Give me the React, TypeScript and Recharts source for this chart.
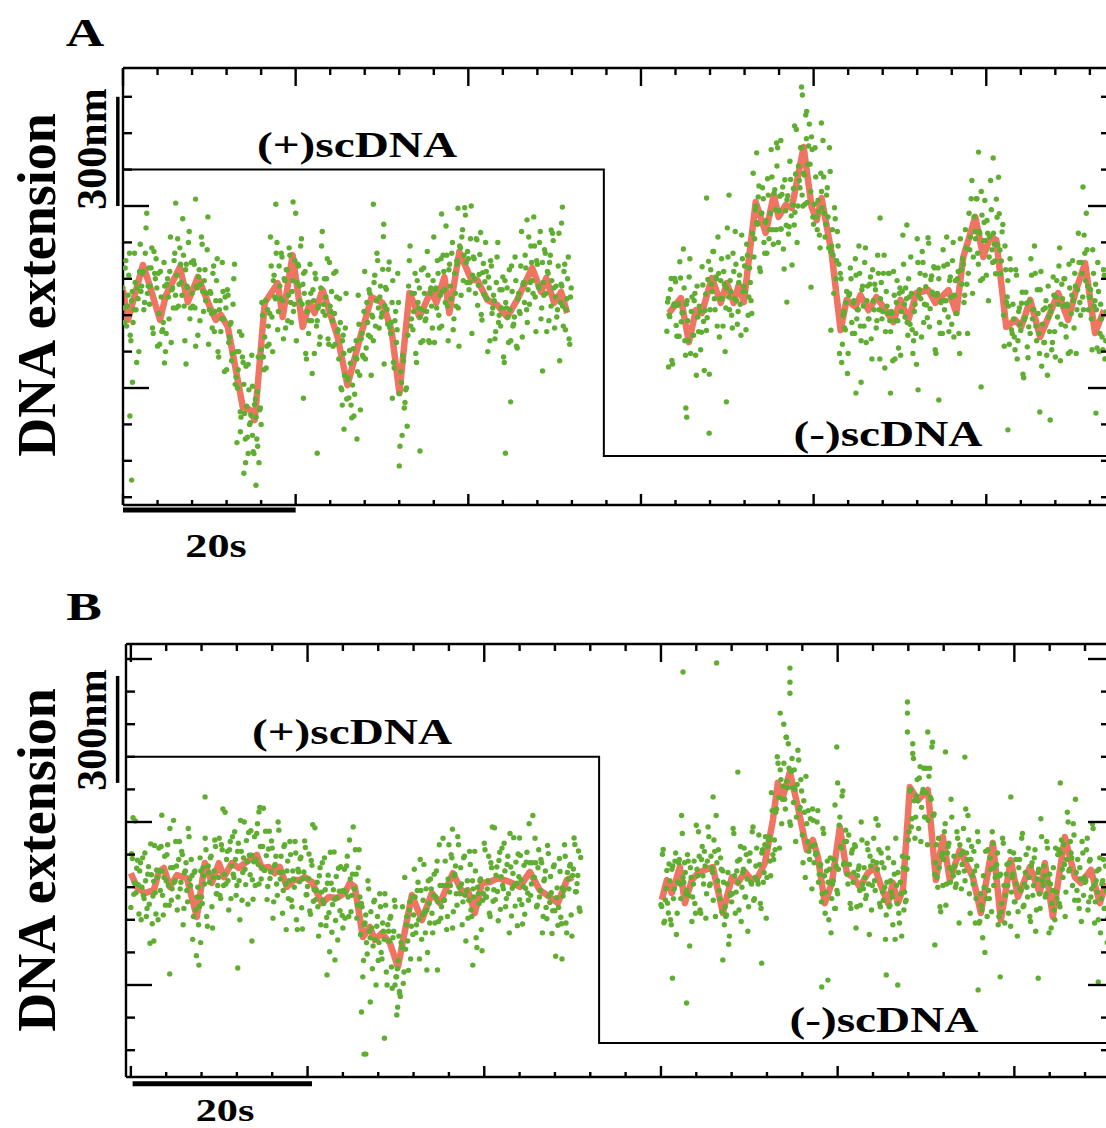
import { ComposedChart, Scatter, Line, XAxis, YAxis, ReferenceLine } from "recharts";

// raw samples: two interleaved sets per segment, 6 per second each (s)
const DT = 1 / 6;

// ---- panel A ----
// raw extension (nm), (+)scDNA part, starting at t = 0 s
const dotsA1 = [
  575, 480, 650, 525, 610, 445, 540, 480, 670, 515, 575, 400, 695, 580, 620, 535, 740, 560,
  630, 580, 685, 450, 615, 655, 415, 505, 620, 455, 480, 580, 450, 600, 490, 715, 570, 520,
  670, 520, 710, 585, 640, 555, 665, 430, 640, 575, 730, 520, 560, 650, 520, 580, 445, 625,
  585, 695, 510, 625, 560, 770, 515, 560, 465, 635, 510, 595, 400, 515, 455, 645, 490, 550,
  350, 555, 440, 480, 395, 600, 310, 400, 350, 455, 220, 385, 310, 160, 250, 365, 200, 225,
  305, 120, 270, 160, 385, 240, 405, 500, 350, 540, 415, 470, 505, 635, 400, 610, 545, 700,
  510, 580, 670, 540, 600, 465, 625, 555, 665, 480, 595, 530, 780, 590, 635, 540, 710, 585,
  560, 395, 510, 450, 640, 485, 570, 395, 600, 485, 525, 440, 690, 510, 600, 550, 655, 420,
  525, 565, 415, 505, 620, 455, 380, 480, 295, 445, 335, 560, 323, 273, 368, 218, 408, 283,
  430, 345, 475, 240, 450, 385, 620, 410, 480, 570, 440, 500, 430, 610, 540, 650, 465, 580,
  506, 716, 526, 571, 476, 646, 450, 535, 370, 485, 425, 615, 285, 345, 170, 375, 260, 300,
  445, 650, 470, 560, 510, 615, 370, 535, 575, 425, 515, 630, 485, 510, 610, 425, 575, 465,
  715, 570, 520, 615, 465, 655, 565, 620, 535, 665, 430, 640, 545, 700, 490, 560, 650, 520,
  690, 555, 735, 665, 775, 590, 655, 590, 800, 610, 655, 560, 707, 582, 667, 502, 617, 557,
  700, 545, 605, 430, 635, 520, 540, 455, 660, 480, 570, 520, 605, 370, 535, 575, 425, 515,
  635, 470, 495, 595, 410, 560, 505, 730, 585, 535, 630, 480, 715, 590, 645, 560, 690, 455,
  640, 575, 730, 520, 590, 680, 560, 620, 485, 665, 595, 705, 465, 580, 515, 725, 535, 580,
  470, 640, 515, 600, 435, 550,
];
const dotsA1b = [
  520, 630, 470, 555, 670, 430, 565, 515, 590, 370, 545, 620, 565, 615, 515, 670, 780, 580,
  530, 630, 465, 675, 600, 575, 615, 420, 550, 460, 645, 400, 585, 550, 620, 425, 575, 650,
  555, 610, 525, 685, 590, 765, 525, 625, 580, 700, 490, 645, 525, 640, 415, 575, 605, 485,
  715, 565, 595, 540, 680, 420, 565, 505, 615, 455, 540, 655, 385, 540, 490, 565, 345, 520,
  570, 425, 475, 375, 530, 640, 330, 300, 400, 235, 445, 370, 230, 360, 165, 295, 205, 390,
  125, 255, 220, 290, 95, 245, 535, 385, 440, 355, 515, 420, 715, 495, 595, 550, 670, 460,
  635, 545, 660, 435, 595, 625, 485, 685, 535, 565, 510, 650, 430, 640, 580, 690, 530, 615,
  620, 380, 535, 485, 560, 340, 540, 615, 470, 520, 420, 575, 730, 530, 500, 600, 435, 645,
  510, 485, 615, 420, 550, 460, 545, 300, 430, 395, 465, 270, 328, 403, 253, 308, 223, 383,
  380, 555, 335, 435, 390, 510, 380, 535, 445, 560, 335, 495, 590, 470, 670, 520, 550, 495,
  626, 366, 576, 516, 626, 466, 480, 595, 355, 510, 460, 535, 140, 315, 390, 245, 295, 195,
  580, 690, 490, 460, 560, 395, 595, 520, 495, 625, 430, 560, 490, 675, 430, 560, 525, 595,
  425, 575, 650, 500, 555, 470, 665, 570, 745, 525, 625, 580, 670, 460, 615, 525, 640, 415,
  685, 715, 595, 795, 645, 675, 570, 710, 450, 660, 600, 710, 527, 612, 727, 487, 642, 592,
  620, 400, 575, 650, 505, 555, 435, 590, 700, 500, 470, 570, 385, 595, 520, 495, 625, 430,
  565, 475, 660, 415, 545, 510, 635, 440, 590, 665, 515, 570, 530, 690, 595, 770, 550, 650,
  580, 700, 490, 645, 555, 670, 455, 615, 645, 525, 725, 575, 550, 495, 635, 375, 585, 525,
  620, 460, 545, 660, 420, 575,
];
// raw extension (nm), (-)scDNA part, starting at t = 63 s
const dotsA2 = [
  456, 546, 496, 601, 366, 531, 592, 442, 532, 647, 482, 507, 575, 390, 540, 430, 655, 510,
  445, 540, 390, 580, 455, 510, 453, 583, 348, 558, 493, 648, 515, 585, 675, 545, 605, 470,
  615, 545, 655, 470, 585, 520, 740, 550, 595, 500, 670, 545, 640, 475, 590, 530, 720, 565,
  635, 460, 665, 550, 590, 505, 890, 710, 800, 750, 855, 620, 780, 820, 670, 760, 875, 710,
  780, 880, 695, 845, 735, 960, 787, 737, 832, 682, 872, 747, 828, 743, 873, 638, 848, 783,
  1010, 800, 870, 960, 830, 890, 805, 985, 915, 1025, 840, 955, 750, 960, 770, 815, 720, 890,
  795, 880, 715, 830, 770, 960, 675, 735, 560, 765, 650, 690, 395, 600, 420, 510, 460, 565,
  395, 560, 600, 450, 540, 655, 490, 515, 615, 430, 580, 470, 685, 540, 490, 585, 435, 625,
  515, 570, 485, 615, 380, 590, 510, 665, 455, 525, 615, 485, 510, 375, 555, 485, 595, 410,
  575, 510, 720, 530, 575, 480, 600, 475, 560, 395, 510, 450, 710, 555, 615, 440, 645, 530,
  578, 493, 698, 518, 608, 558, 630, 395, 560, 600, 450, 540, 680, 515, 540, 640, 455, 605,
  475, 700, 555, 505, 600, 450, 710, 585, 640, 555, 685, 450, 780, 715, 870, 660, 730, 820,
  670, 730, 595, 775, 705, 815, 610, 725, 660, 870, 680, 725, 649, 819, 694, 779, 614, 729,
  500, 690, 535, 595, 420, 625, 450, 490, 405, 610, 430, 520, 458, 563, 328, 493, 533, 383,
  540, 655, 490, 515, 615, 430, 505, 395, 620, 475, 425, 520, 390, 580, 455, 510, 425, 555,
  385, 595, 530, 685, 475, 545, 600, 470, 530, 395, 575, 505, 650, 465, 580, 515, 725, 535,
  645, 550, 720, 595, 680, 515, 550, 490, 680, 525, 585, 410, 565, 450, 490, 405, 610, 430,
];
const dotsA2b = [
  536, 501, 571, 376, 526, 601, 472, 527, 442, 602, 507, 682, 430, 530, 485, 605, 395, 550,
  445, 560, 335, 495, 525, 405, 633, 483, 513, 458, 598, 338, 625, 565, 675, 515, 600, 715,
  440, 595, 545, 620, 400, 575, 660, 515, 565, 465, 620, 730, 540, 510, 610, 445, 655, 580,
  565, 695, 500, 630, 540, 725, 660, 790, 755, 825, 630, 780, 850, 700, 755, 670, 830, 735,
  955, 735, 835, 790, 910, 700, 827, 737, 852, 627, 787, 817, 723, 923, 773, 803, 748, 888,
  700, 910, 850, 960, 800, 885, 1050, 810, 965, 915, 990, 770, 805, 880, 735, 785, 685, 840,
  980, 780, 750, 850, 685, 895, 690, 665, 795, 600, 730, 640, 615, 370, 500, 465, 535, 340,
  555, 630, 480, 535, 450, 610, 515, 690, 470, 570, 525, 645, 425, 580, 490, 605, 380, 540,
  585, 465, 665, 515, 545, 490, 615, 355, 565, 505, 615, 455, 505, 620, 380, 535, 485, 560,
  390, 565, 640, 495, 545, 445, 550, 660, 460, 430, 530, 365, 645, 570, 545, 675, 480, 610,
  528, 713, 468, 598, 563, 633, 405, 555, 630, 480, 535, 450, 635, 540, 715, 495, 595, 550,
  650, 440, 595, 505, 620, 395, 625, 655, 535, 735, 585, 615, 680, 820, 560, 770, 710, 820,
  640, 725, 840, 600, 755, 705, 760, 540, 715, 790, 645, 695, 614, 769, 879, 679, 649, 749,
  415, 625, 550, 525, 655, 460, 530, 440, 625, 380, 510, 475, 533, 338, 488, 563, 413, 468,
  450, 610, 515, 690, 470, 570, 450, 570, 360, 515, 425, 540, 335, 495, 525, 405, 605, 455,
  550, 495, 635, 375, 585, 525, 600, 440, 525, 640, 400, 555, 540, 615, 395, 570, 645, 500,
  615, 515, 670, 780, 580, 550, 570, 405, 615, 540, 515, 645, 400, 530, 440, 625, 380, 510,
];
// isolated far points [t s, nm]
const farA = [
  [1.0, 47], [0.8, 223], [1.1, 316], [6.1, 808], [8.4, 819], [14.0, 66], [15.4, 33], [17.7, 805],
  [19.7, 811], [29.0, 805], [32.0, 86], [22.5, 121], [34.4, 127], [44.3, 121], [38.8, 794],
  [36.9, 778], [30.2, 750], [25.4, 253], [27.1, 160], [25.6, 187], [31.2, 272], [44.9, 262],
  [48.6, 347], [49.6, 734], [4.8, 369], [7.3, 366], [20.9, 272], [50.9, 797], [46.8, 762],
  [50.8, 753], [13.2, 150], [14.5, 120], [15.0, 170], [13.6, 180], [14.2, 95], [15.6, 140], [16.0, 200],
  [78.6, 1127], [78.7, 1105], [80.9, 1028], [67.9, 176], [69.9, 262], [65.3, 220], [65.2, 245],
  [63.2, 358], [67.6, 822], [70.2, 830], [73.4, 946], [75.7, 973], [76.9, 536], [79.7, 577],
  [82.0, 459], [84.9, 286], [85.5, 316], [87.7, 767], [99.1, 948], [100.8, 932], [111.2, 852],
  [90.8, 748], [102.5, 185], [107.4, 212], [106.2, 234], [99.4, 303], [92.1, 295], [88.9, 286],
  [94.5, 267], [112.7, 231], [77.8, 1020], [79.2, 1060], [76.2, 980],
];
// smoothed trace [t s, nm]
const smoothA1 = [
  [0, 569], [0.58, 487], [2.31, 638], [2.89, 597], [4.28, 487], [4.97, 555], [6.59, 632], [7.51, 536],
  [8.67, 605], [10.06, 523], [10.75, 487], [11.33, 501], [12.14, 468], [13.87, 248], [14.68, 240],
  [15.26, 212], [16.42, 534], [17.92, 588], [18.5, 495], [19.65, 665], [20.81, 468], [21.62, 534],
  [22.2, 506], [23.12, 569], [24.86, 440], [26.0, 308], [27.4, 432], [28.79, 550], [30.06, 534],
  [31.1, 459], [32.02, 286], [33.18, 561], [34.34, 495], [35.72, 569], [36.3, 534], [37.23, 605],
  [37.8, 506], [38.96, 674], [40.35, 597], [41.04, 597], [42.2, 542], [43.35, 528], [44.5, 495],
  [45.66, 542], [47.4, 630], [48.44, 564], [49.02, 602], [49.94, 534], [50.75, 564], [51.45, 506],
];
const smoothA2 = [
  [63.24, 506], [64.62, 547], [65.55, 426], [66.36, 514], [67.05, 506], [68.21, 602], [69.25, 534],
  [69.94, 588], [70.75, 534], [71.33, 583], [71.91, 536], [73.29, 811], [74.45, 726], [75.38, 830],
  [75.95, 770], [76.76, 803], [77.46, 794], [78.84, 962], [79.77, 797], [80.35, 761], [80.92, 822],
  [82.08, 671], [83.12, 459], [83.82, 542], [84.86, 523], [85.43, 555], [86.36, 514], [87.28, 550],
  [88.32, 514], [89.25, 481], [90.06, 542], [90.98, 487], [91.91, 561], [93.29, 569], [94.1, 534],
  [94.8, 550], [95.61, 569], [96.53, 506], [97.34, 660], [98.73, 770], [99.65, 660], [100.46, 715],
  [101.16, 707], [102.31, 468], [103.35, 487], [104.05, 468], [105.09, 542], [106.24, 440],
  [107.4, 506], [108.32, 561], [109.48, 487], [110.4, 569], [111.45, 643], [112.6, 451], [113.64, 514],
];
const stepA = [[0, 900], [55.7, 900], [55.7, 113], [114.1, 113]];

// ---- panel B ----
const dotsB1 = [
  538, 688, 578, 803, 658, 608, 650, 500, 690, 565, 620, 535, 663, 428, 638, 573, 728, 518,
  630, 720, 590, 650, 515, 695, 620, 730, 545, 660, 595, 805, 620, 665, 570, 740, 615, 700,
  535, 650, 590, 780, 625, 685, 440, 645, 530, 570, 485, 690, 570, 660, 610, 715, 480, 645,
  690, 540, 630, 745, 580, 605, 750, 565, 715, 605, 830, 685, 620, 715, 565, 755, 630, 685,
  605, 735, 500, 710, 645, 800, 608, 678, 768, 638, 698, 563, 755, 685, 795, 610, 725, 660,
  842, 652, 697, 602, 772, 647, 720, 555, 670, 610, 800, 645, 695, 520, 725, 610, 650, 565,
  740, 560, 650, 600, 705, 470, 647, 687, 537, 627, 742, 577, 602, 702, 517, 667, 557, 782,
  590, 540, 635, 485, 675, 550, 592, 507, 637, 402, 612, 547, 708, 498, 568, 658, 528, 588,
  475, 655, 585, 695, 510, 625, 575, 785, 595, 640, 545, 715, 455, 540, 375, 490, 430, 620,
  465, 525, 350, 555, 440, 480, 375, 580, 400, 490, 440, 545, 300, 465, 505, 355, 445, 560,
  325, 350, 450, 265, 415, 305, 630, 485, 435, 530, 380, 570, 515, 570, 485, 615, 380, 590,
  515, 670, 460, 530, 620, 490, 595, 460, 640, 570, 680, 495, 605, 540, 750, 560, 605, 510,
  730, 605, 690, 525, 640, 580, 755, 600, 660, 485, 690, 575, 590, 505, 710, 530, 620, 570,
  650, 415, 580, 620, 470, 560, 735, 570, 595, 695, 510, 660, 557, 782, 637, 587, 682, 532,
  720, 595, 650, 565, 695, 460, 662, 597, 752, 542, 612, 702, 562, 622, 487, 667, 597, 707,
  560, 675, 610, 820, 630, 675, 545, 715, 590, 675, 510, 625, 538, 728, 573, 633, 458, 663,
  528, 568, 483, 688, 508, 598, 590, 695, 460, 625, 665, 515, 636, 751, 586, 611, 711, 526,
];
const dotsB1b = [
  703, 813, 613, 583, 683, 518, 675, 600, 575, 705, 510, 640, 548, 733, 488, 618, 583, 653,
  500, 650, 725, 575, 630, 545, 700, 605, 780, 560, 660, 615, 740, 530, 685, 595, 710, 485,
  645, 675, 555, 755, 605, 635, 510, 650, 390, 600, 540, 650, 550, 635, 750, 510, 665, 615,
  695, 475, 650, 725, 580, 630, 575, 730, 840, 640, 610, 710, 530, 740, 665, 640, 770, 575,
  710, 620, 805, 560, 690, 655, 743, 548, 698, 773, 623, 678, 605, 765, 670, 845, 625, 725,
  652, 772, 562, 717, 627, 742, 505, 665, 695, 575, 775, 625, 645, 590, 730, 470, 680, 620,
  700, 540, 625, 740, 500, 655, 617, 692, 472, 647, 722, 577, 627, 527, 682, 792, 592, 562,
  615, 450, 660, 585, 560, 690, 482, 612, 522, 707, 462, 592, 563, 633, 438, 588, 663, 513,
  590, 505, 665, 570, 745, 525, 640, 595, 715, 505, 660, 570, 550, 325, 485, 515, 395, 595,
  445, 475, 420, 560, 300, 510, 430, 540, 380, 465, 580, 340, 485, 435, 510, 290, 465, 540,
  325, 375, 275, 430, 540, 340, 410, 510, 345, 555, 480, 455, 655, 460, 590, 500, 685, 440,
  560, 525, 595, 400, 550, 625, 520, 575, 490, 650, 555, 730, 505, 605, 560, 680, 470, 625,
  585, 700, 475, 635, 665, 545, 730, 580, 610, 555, 695, 435, 620, 560, 670, 510, 595, 710,
  445, 600, 550, 625, 405, 580, 715, 570, 620, 520, 675, 785, 592, 562, 662, 497, 707, 632,
  605, 735, 540, 670, 580, 765, 512, 642, 607, 677, 482, 632, 697, 547, 602, 517, 677, 582,
  795, 575, 675, 630, 750, 540, 660, 570, 685, 460, 620, 650, 503, 703, 553, 583, 528, 668,
  388, 598, 538, 648, 488, 573, 730, 490, 645, 595, 670, 450, 656, 731, 586, 636, 536, 691,
];
// starting at t = 60 s
const dotsB2 = [
  546, 701, 491, 561, 651, 521, 620, 485, 665, 595, 705, 520, 675, 610, 820, 630, 675, 580,
  700, 575, 660, 495, 610, 550, 790, 635, 695, 520, 725, 610, 665, 580, 785, 605, 695, 645,
  745, 510, 675, 715, 565, 655, 650, 485, 510, 610, 425, 575, 555, 780, 635, 585, 680, 530,
  725, 600, 655, 570, 700, 465, 680, 615, 770, 560, 630, 720, 610, 670, 535, 715, 645, 755,
  630, 745, 680, 890, 700, 745, 830, 1000, 875, 960, 795, 910, 870, 1060, 905, 965, 790, 995,
  860, 900, 815, 1020, 840, 930, 760, 865, 630, 795, 835, 685, 725, 840, 675, 700, 800, 615,
  665, 555, 780, 635, 585, 680, 500, 690, 565, 620, 535, 665, 580, 790, 725, 880, 670, 740,
  740, 610, 670, 535, 715, 645, 725, 540, 655, 590, 800, 610, 660, 565, 735, 610, 695, 530,
  680, 620, 810, 655, 715, 540, 675, 560, 600, 515, 720, 540, 620, 570, 675, 440, 605, 645,
  490, 580, 695, 530, 555, 655, 745, 895, 785, 1010, 865, 815, 930, 780, 970, 845, 900, 815,
  965, 730, 940, 875, 1030, 820, 640, 730, 600, 660, 525, 705, 685, 795, 610, 725, 660, 870,
  650, 695, 600, 770, 645, 730, 595, 710, 650, 840, 685, 745, 520, 725, 610, 650, 565, 770,
  490, 580, 530, 635, 400, 565, 715, 565, 655, 770, 605, 630, 670, 485, 635, 525, 750, 605,
  575, 670, 520, 710, 585, 640, 555, 685, 450, 660, 595, 750, 540, 610, 700, 570, 630, 495,
  675, 605, 715, 530, 645, 580, 810, 620, 665, 570, 740, 615, 640, 475, 590, 530, 720, 565,
  715, 540, 745, 630, 670, 585, 830, 650, 740, 690, 795, 560, 645, 685, 535, 625, 740, 575,
  615, 715, 530, 680, 570, 795, 605, 555, 650, 500, 690, 565, 620, 535, 665, 430, 640, 575,
];
const dotsB2b = [
  541, 716, 496, 596, 551, 671, 500, 655, 565, 680, 455, 615, 685, 565, 765, 615, 645, 590,
  680, 420, 630, 570, 680, 520, 655, 770, 530, 685, 635, 710, 505, 680, 755, 610, 660, 560,
  710, 820, 620, 590, 690, 525, 615, 540, 515, 645, 450, 580, 580, 765, 520, 650, 615, 685,
  495, 645, 720, 570, 625, 540, 705, 610, 785, 565, 665, 620, 760, 550, 705, 615, 730, 505,
  725, 755, 635, 835, 685, 715, 840, 980, 720, 930, 870, 980, 840, 925, 1040, 800, 955, 905,
  960, 740, 915, 990, 845, 895, 675, 830, 940, 740, 710, 810, 595, 805, 730, 705, 835, 640,
  670, 580, 765, 520, 650, 615, 655, 460, 610, 685, 535, 590, 655, 815, 720, 895, 675, 775,
  640, 760, 550, 705, 615, 730, 475, 635, 665, 545, 745, 595, 630, 575, 715, 455, 665, 605,
  750, 590, 675, 790, 550, 705, 585, 660, 440, 615, 690, 545, 585, 485, 640, 750, 550, 520,
  615, 450, 660, 585, 560, 690, 770, 900, 810, 995, 750, 880, 865, 935, 740, 890, 965, 815,
  890, 805, 965, 870, 1045, 825, 675, 630, 750, 540, 695, 605, 770, 545, 705, 735, 615, 815,
  635, 665, 610, 750, 490, 700, 670, 780, 620, 705, 820, 580, 685, 635, 710, 490, 665, 740,
  495, 545, 445, 600, 710, 510, 590, 690, 525, 735, 660, 635, 705, 510, 640, 550, 735, 490,
  640, 605, 675, 480, 630, 705, 555, 610, 525, 685, 590, 765, 545, 645, 600, 720, 510, 665,
  575, 690, 465, 625, 655, 535, 755, 605, 635, 580, 720, 460, 610, 550, 660, 500, 585, 700,
  550, 705, 655, 730, 510, 685, 800, 655, 705, 605, 760, 870, 590, 560, 660, 495, 705, 630,
  620, 750, 555, 685, 595, 780, 490, 620, 585, 655, 460, 610, 685, 535, 590, 505, 665, 570,
];
const farB = [
  [8.4, 877], [3.5, 821], [14.5, 831], [4.4, 334], [12.1, 352], [7.7, 361], [22.2, 331], [2.6, 435],
  [13.7, 435], [23.1, 377], [26.6, 88], [28.7, 137], [26.1, 217], [30.1, 208], [30.2, 232], [27.1, 248],
  [36.4, 778], [44.0, 751], [38.7, 361], [48.8, 380], [33.5, 346], [34.7, 346], [26.4, 88], [29.9, 300],
  [30.4, 280], [7.9, 430],
  [62.5, 1260], [66.3, 1288], [74.6, 1272], [74.6, 1229], [74.6, 1195], [73.5, 1134], [79.9, 1030],
  [68.7, 953], [62.9, 245], [61.3, 321], [78.9, 315], [78.2, 294], [67.0, 377], [71.4, 367], [80.0, 920],
  [79.7, 852], [65.9, 877], [87.9, 1168], [87.9, 1134], [87.9, 1076], [90.2, 1076], [92.2, 1015],
  [94.4, 999], [95.9, 285], [86.8, 300], [98.4, 325], [102.7, 321], [85.5, 331], [105.2, 920],
  [109.5, 309], [99.6, 877], [91.0, 423], [73.9, 1100], [74.2, 1060], [88.5, 1040],
];
const smoothB1 = [
  [0, 643], [0.68, 601], [1.58, 582], [2.6, 591], [3.17, 647], [3.74, 659], [4.41, 601], [5.21, 637],
  [6.34, 628], [7.47, 509], [8.38, 674], [9.17, 613], [9.96, 674], [10.53, 631], [11.43, 674],
  [12.22, 659], [12.9, 674], [14.26, 699], [14.83, 659], [15.62, 662], [16.3, 643], [16.86, 662],
  [17.66, 601], [18.45, 622], [19.13, 622], [19.69, 631], [20.49, 616], [21.62, 551], [22.41, 570],
  [23.32, 567], [24.22, 582], [24.79, 613], [25.35, 601], [26.26, 447], [27.05, 478], [27.62, 438],
  [28.41, 459], [29.32, 429], [30.22, 355], [31.81, 576], [32.94, 499], [34.07, 582], [34.97, 551],
  [36.45, 643], [37.58, 582], [38.14, 591], [38.94, 521], [39.73, 613], [40.63, 616], [41.54, 628],
  [42.9, 616], [44.03, 601], [45.16, 647], [46.29, 591], [47.43, 570], [48.33, 551], [49.35, 622], [50.03, 631],
];
const smoothB2 = [
  [60.1, 561], [60.67, 622], [61.23, 582], [61.8, 631], [62.14, 662], [62.71, 551], [63.5, 622],
  [64.18, 643], [64.97, 653], [65.87, 662], [67.01, 521], [68.03, 631], [68.7, 613], [69.5, 647],
  [70.29, 622], [70.97, 631], [71.76, 674], [72.67, 806], [73.23, 920], [73.8, 877], [74.59, 953],
  [75.5, 846], [76.51, 714], [77.19, 745], [77.76, 693], [78.55, 551], [79.34, 613], [80.25, 785],
  [81.04, 643], [81.72, 631], [82.51, 601], [83.42, 643], [84.21, 662], [84.78, 613], [85.68, 551],
  [86.25, 613], [86.81, 551], [87.38, 591], [88.17, 907], [89.08, 867], [90.21, 898], [91.12, 622],
  [91.91, 754], [92.7, 622], [93.83, 714], [94.51, 674], [95.3, 631], [96.21, 521], [97.57, 736],
  [98.47, 499], [99.6, 683], [100.4, 570], [101.76, 662], [102.89, 582], [103.45, 674], [104.36, 509],
  [105.72, 754], [106.85, 631], [107.53, 613], [108.66, 653], [109.68, 551], [110.36, 613],
];
const stepB = [[-0.6, 1000], [53.0, 1000], [53.0, 122], [110.7, 122]];

const ticksXA = [0, 4, 8, 12, 16, 20, 24, 28, 32, 36, 40, 44, 48, 52, 56, 60, 64, 68, 72, 76, 80, 84, 88, 92, 96, 100, 104, 108, 112];
const ticksXB = [0, 4, 8, 12, 16, 20, 24, 28, 32, 36, 40, 44, 48, 52, 56, 60, 64, 68, 72, 76, 80, 84, 88, 92, 96, 100, 104, 108];
const ticksYA = [0, 100, 200, 300, 400, 500, 600, 700, 800, 900, 1000, 1100];
const ticksYB = [100, 200, 300, 400, 500, 600, 700, 800, 900, 1000, 1100, 1200, 1300];
const majorY = [300, 800, 1300];

const GREEN = "#5fae31";
const RED = "#ef7462";
const INK = "#000";
const SERIF = '"Liberation Serif", "Times New Roman", serif';

const raw = (t0: number, vals: number[]) => vals.map((v, i) => ({ t: t0 + i * DT, v }));
const pts = (arr: number[][]) => arr.map(([t, v]) => ({ t, v }));

type Side = "top" | "bottom" | "left" | "right";
const tickMark = (side: Side, isMajor: (v: number) => boolean, big: number, small: number) => (p: any) => {
  const len = isMajor(p.payload.value) ? big : small;
  const { x, y } = p;
  let x2 = x, y2 = y;
  if (side === "top") y2 = y + len;
  else if (side === "bottom") y2 = y - len;
  else if (side === "left") x2 = x + len;
  else x2 = x - len;
  return <line x1={x} y1={y} x2={x2} y2={y2} stroke={INK} strokeWidth={2.4} />;
};
const xMajor = (v: number) => v % 20 === 0;
const yMajor = (v: number) => majorY.includes(v);

const dot = (p: any) => <circle cx={p.cx} cy={p.cy} r={2.7} fill={GREEN} />;

function Txt({ x, y, size, sx = 1, rot = 0, children }: any) {
  return (
    <div
      style={{
        position: "absolute", left: x, top: y, fontFamily: SERIF, fontWeight: 700, fontSize: size,
        lineHeight: 1, whiteSpace: "nowrap", color: INK,
        transform: `translate(-50%, -50%) rotate(${rot}deg) scale(${sx}, 1)`,
      }}
    >
      {children}
    </div>
  );
}

// axes need a non-zero size or Recharts skips them, hence the 1px widths/heights
function Panel({ top, margin, xDomain, yDomain, xTicks, yTicks, dots, smooth1, smooth2, step, nmBar, sBar }: any) {
  const axis = { stroke: INK, strokeWidth: 2.4 };
  return (
    <div style={{ position: "absolute", left: 0, top }}>
      <ComposedChart width={1110} height={530} margin={margin}>
        <XAxis xAxisId="b" dataKey="t" type="number" domain={xDomain} allowDataOverflow ticks={xTicks} interval={0}
          height={1} tickSize={0} tickMargin={0} tickLine={false} axisLine={axis} tick={tickMark("bottom", xMajor, 11, 5)} />
        <XAxis xAxisId="t" orientation="top" dataKey="t" type="number" domain={xDomain} allowDataOverflow ticks={xTicks}
          interval={0} height={1} tickSize={0} tickMargin={0} tickLine={false} axisLine={axis} tick={tickMark("top", xMajor, 18, 7)} />
        <YAxis yAxisId="l" dataKey="v" type="number" domain={yDomain} allowDataOverflow ticks={yTicks} interval={0}
          width={1} tickSize={0} tickMargin={0} tickLine={false} axisLine={axis} tick={tickMark("left", yMajor, 26, 9)} />
        <YAxis yAxisId="r" orientation="right" dataKey="v" type="number" domain={yDomain} allowDataOverflow ticks={yTicks}
          interval={0} width={1} tickSize={0} tickMargin={0} tickLine={false} axisLine={axis} tick={tickMark("right", yMajor, 20, 7)} />
        <Line xAxisId="b" yAxisId="l" data={pts(step)} dataKey="v" type="linear" stroke={INK} strokeWidth={2}
          dot={false} activeDot={false} isAnimationActive={false} />
        <Scatter xAxisId="b" yAxisId="l" data={dots} dataKey="v" shape={dot} isAnimationActive={false} />
        <Line xAxisId="b" yAxisId="l" data={pts(smooth1)} dataKey="v" type="linear" stroke={RED} strokeWidth={6.5}
          strokeLinejoin="round" dot={false} activeDot={false} isAnimationActive={false} />
        <Line xAxisId="b" yAxisId="l" data={pts(smooth2)} dataKey="v" type="linear" stroke={RED} strokeWidth={6.5}
          strokeLinejoin="round" dot={false} activeDot={false} isAnimationActive={false} />
        <ReferenceLine xAxisId="b" yAxisId="l" segment={nmBar} stroke={INK} strokeWidth={3.5} ifOverflow="visible" />
        <ReferenceLine xAxisId="b" yAxisId="l" segment={sBar} stroke={INK} strokeWidth={5} ifOverflow="visible" />
      </ComposedChart>
    </div>
  );
}

export default function App() {
  const half = DT / 2;
  const dotsA = [...raw(0, dotsA1), ...raw(half, dotsA1b), ...raw(63, dotsA2), ...raw(63 + half, dotsA2b), ...pts(farA)];
  const dotsB = [...raw(0, dotsB1), ...raw(half, dotsB1b), ...raw(60, dotsB2), ...raw(60 + half, dotsB2b), ...pts(farB)];
  return (
    <div style={{ position: "absolute", left: 0, top: 0, width: 1106, height: 1128, overflow: "hidden", background: "#fff" }}>
      <Panel
        top={0}
        margin={{ top: 67, right: 1, bottom: 24, left: 122 }}
        xDomain={[0, 114.1]}
        yDomain={[-21.4, 1179.1]}
        xTicks={ticksXA}
        yTicks={ticksYA}
        dots={dotsA}
        smooth1={smoothA1}
        smooth2={smoothA2}
        step={stepA}
        nmBar={[{ x: -0.6, y: 800 }, { x: -0.6, y: 1100 }]}
        sBar={[{ x: 0, y: -35 }, { x: 20, y: -35 }]}
      />
      <Panel
        top={580}
        margin={{ top: 63, right: 1, bottom: 32, left: 125 }}
        xDomain={[-0.55, 110.6]}
        yDomain={[17.8, 1346]}
        xTicks={ticksXB}
        yTicks={ticksYB}
        dots={dotsB}
        smooth1={smoothB1}
        smooth2={smoothB2}
        step={stepB}
        nmBar={[{ x: -1.5, y: 920 }, { x: -1.5, y: 1248 }]}
        sBar={[{ x: 0.2, y: -3 }, { x: 20.5, y: -3 }]}
      />
      <Txt x={85} y={32} size={41} sx={1.3}>A</Txt>
      <Txt x={37} y={285} size={54} rot={-90}>DNA extension</Txt>
      <Txt x={92} y={149} size={42} rot={-90}>300nm</Txt>
      <Txt x={357} y={145} size={35} sx={1.35}>(+)scDNA</Txt>
      <Txt x={888} y={434} size={35} sx={1.35}>(-)scDNA</Txt>
      <Txt x={216} y={546} size={34} sx={1.3}>20s</Txt>

      <Txt x={84} y={606} size={41} sx={1.3}>B</Txt>
      <Txt x={37} y={860} size={54} rot={-90}>DNA extension</Txt>
      <Txt x={92} y={730} size={42} rot={-90}>300nm</Txt>
      <Txt x={352} y={732} size={35} sx={1.35}>(+)scDNA</Txt>
      <Txt x={884} y={1020} size={35} sx={1.35}>(-)scDNA</Txt>
      <Txt x={225} y={1110} size={32} sx={1.32}>20s</Txt>
    </div>
  );
}
